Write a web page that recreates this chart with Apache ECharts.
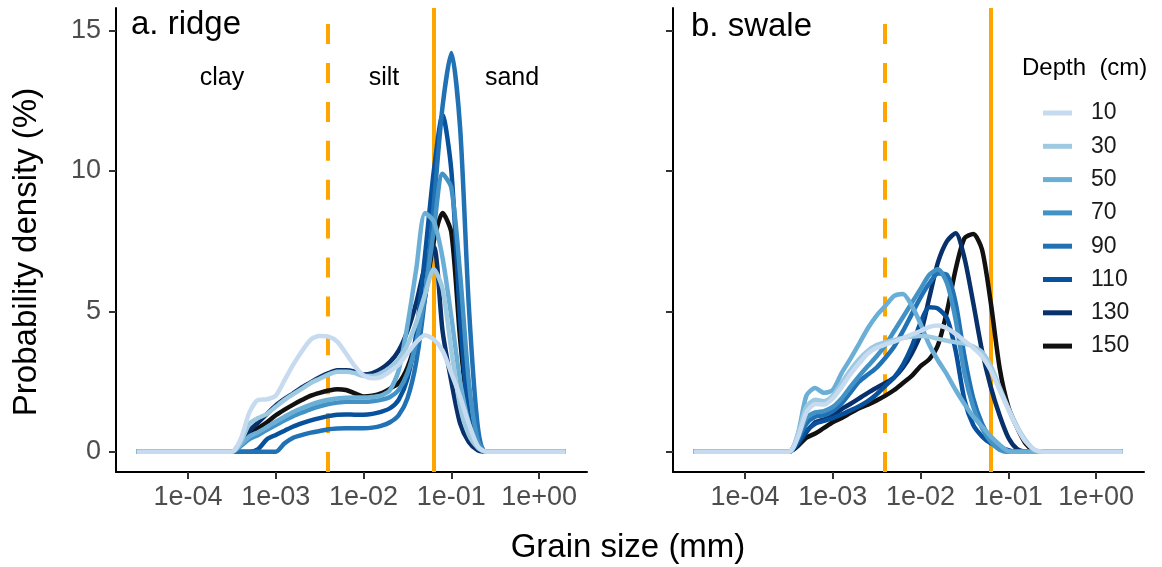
<!DOCTYPE html>
<html><head><meta charset="utf-8">
<script src="https://cdn.jsdelivr.net/npm/echarts@6/dist/echarts.min.js"></script>
<style>html,body{margin:0;padding:0;background:#fff}#c{width:1162px;height:567px}</style>
</head><body><div id="c"></div>
<script>
// Grain size (mm) sample points
const grainSize = [0.000026, 0.000316, 0.000398, 0.000501, 0.000631, 0.000794, 0.001, 0.00126, 0.00158, 0.002, 0.00251, 0.00316, 0.00398, 0.00501, 0.00631, 0.00794, 0.01, 0.0126, 0.0158, 0.02, 0.0251, 0.0316, 0.0398, 0.0501, 0.0631, 0.0794, 0.1, 0.126, 0.158, 0.2, 0.251, 2.0];
const depths = ['10', '30', '50', '70', '90', '110', '130', '150'];
const depthColors = ['#c6dbef', '#9ecae1', '#6baed6', '#4292c6', '#2171b5', '#08519c', '#08306b', '#111111'];

// a. ridge — probability density (%)
const ridge10  = [0, 0, 0.45, 1.4, 1.85, 1.87, 2.0, 2.55, 3.1, 3.6, 4.0, 4.12, 4.1, 3.92, 3.5, 3.05, 2.72, 2.62, 2.66, 2.86, 3.1, 3.5, 3.9, 4.15, 4.0, 3.6, 2.8, 1.95, 1.0, 0.2, 0, 0];
const ridge30  = [0, 0, 0.35, 1.0, 1.2, 1.35, 1.6, 1.85, 2.05, 2.25, 2.45, 2.6, 2.75, 2.85, 2.85, 2.8, 2.7, 2.7, 2.8, 3.0, 3.3, 3.8, 4.6, 5.6, 6.5, 5.8, 3.6, 1.6, 0.6, 0.15, 0, 0];
const ridge50  = [0, 0, 0.25, 0.55, 0.7, 0.88, 1.07, 1.25, 1.42, 1.56, 1.68, 1.78, 1.85, 1.9, 1.92, 1.93, 1.93, 1.95, 2.0, 2.2, 2.9, 4.5, 6.5, 8.5, 8.2, 6.9, 4.8, 2.5, 1.0, 0.15, 0, 0];
const ridge70  = [0, 0, 0.2, 0.45, 0.6, 0.78, 0.95, 1.12, 1.27, 1.4, 1.52, 1.62, 1.7, 1.75, 1.78, 1.78, 1.78, 1.8, 1.85, 1.95, 2.2, 2.8, 3.9, 5.6, 7.9, 9.9, 9.4, 6.3, 2.5, 0.4, 0, 0];
const ridge90  = [0, 0, 0, 0, 0, 0, 0, 0.3, 0.5, 0.6, 0.68, 0.74, 0.8, 0.83, 0.84, 0.84, 0.84, 0.86, 0.92, 1.05, 1.3, 1.9, 3.2, 5.5, 8.8, 12.3, 14.2, 11.5, 5.2, 0.9, 0, 0];
const ridge110 = [0, 0, 0, 0, 0.1, 0.45, 0.6, 0.75, 0.9, 1.02, 1.12, 1.2, 1.27, 1.32, 1.33, 1.32, 1.32, 1.35, 1.42, 1.55, 1.85, 2.6, 4.2, 7.0, 10.0, 12.0, 10.0, 4.7, 1.3, 0.2, 0, 0];
const ridge130 = [0, 0, 0.3, 0.75, 1.05, 1.35, 1.65, 1.88, 2.08, 2.3, 2.48, 2.65, 2.8, 2.9, 2.9, 2.85, 2.75, 2.8, 2.95, 3.2, 3.6, 4.3, 5.3, 6.6, 7.3, 4.3, 2.5, 1.0, 0.35, 0.05, 0, 0];
const ridge150 = [0, 0, 0.35, 0.7, 0.85, 1.05, 1.3, 1.5, 1.68, 1.85, 2.0, 2.1, 2.18, 2.23, 2.2, 2.08, 1.97, 2.0, 2.08, 2.25, 2.45, 3.0, 4.0, 5.5, 7.5, 8.5, 7.8, 4.0, 1.2, 0.15, 0, 0];

// b. swale — probability density (%)
const swale10  = [0, 0, 0.5, 1.4, 1.7, 1.68, 1.9, 2.3, 2.75, 3.15, 3.5, 3.7, 3.82, 3.92, 4.05, 4.18, 4.3, 4.45, 4.5, 4.4, 4.2, 3.95, 3.7, 3.4, 2.9, 2.2, 1.5, 0.85, 0.35, 0.07, 0, 0];
const swale30  = [0, 0, 0.6, 1.6, 1.85, 1.8, 2.0, 2.45, 2.9, 3.3, 3.6, 3.8, 3.9, 3.98, 4.05, 4.1, 4.12, 4.1, 4.02, 3.95, 3.9, 3.85, 3.75, 3.55, 3.05, 2.3, 1.55, 0.9, 0.4, 0.06, 0, 0];
const swale50  = [0, 0, 0.6, 2.0, 2.27, 2.1, 2.2, 2.8, 3.3, 3.85, 4.4, 4.85, 5.2, 5.55, 5.62, 5.2, 4.55, 3.8, 3.25, 2.75, 2.2, 1.7, 1.25, 0.9, 0.55, 0.25, 0.02, 0, 0, 0, 0, 0];
const swale70  = [0, 0, 0.5, 1.2, 1.4, 1.45, 1.6, 1.9, 2.3, 2.7, 3.05, 3.4, 3.8, 4.3, 4.8, 5.3, 5.8, 6.3, 6.5, 6.0, 4.7, 2.8, 1.6, 0.85, 0.35, 0.07, 0, 0, 0, 0, 0, 0];
const swale90  = [0, 0, 0.4, 1.0, 1.25, 1.3, 1.45, 1.72, 2.1, 2.5, 2.75, 3.0, 3.35, 3.75, 4.3, 4.9, 5.5, 6.0, 6.35, 6.3, 5.3, 3.4, 1.9, 1.0, 0.45, 0.12, 0, 0, 0, 0, 0, 0];
const swale110 = [0, 0, 0.3, 0.75, 1.0, 1.1, 1.2, 1.33, 1.47, 1.62, 1.8, 2.05, 2.35, 2.65, 3.1, 3.75, 4.6, 5.15, 5.1, 4.75, 3.6, 1.85, 0.95, 0.55, 0.3, 0.17, 0.06, 0, 0, 0, 0, 0];
const swale130 = [0, 0, 0.25, 0.7, 1.05, 1.15, 1.3, 1.52, 1.7, 1.9, 2.1, 2.28, 2.45, 2.65, 3.0, 3.5, 4.2, 5.5, 6.75, 7.5, 7.78, 6.9, 5.3, 3.6, 2.3, 1.3, 0.5, 0.1, 0, 0, 0, 0];
const swale150 = [0, 0, 0.2, 0.5, 0.65, 0.85, 1.05, 1.2, 1.38, 1.55, 1.68, 1.83, 2.0, 2.2, 2.45, 2.7, 3.05, 3.3, 3.8, 5.0, 6.5, 7.6, 7.75, 7.2, 5.3, 3.0, 1.6, 0.85, 0.28, 0.03, 0, 0];

// texture boundaries (mm): clay/silt and silt/sand
const boundaries = [0.0039, 0.0625];
const xTickExponents = [-4, -3, -2, -1, 0];
const yTicks = [0, 5, 10, 15];
const panelTitles = ['a. ridge', 'b. swale'];
const classLabels = ['clay', 'silt', 'sand'];

const ridgeSets = [ridge10, ridge30, ridge50, ridge70, ridge90, ridge110, ridge130, ridge150];
const swaleSets = [swale10, swale30, swale50, swale70, swale90, swale110, swale130, swale150];

const FONT = '"Liberation Sans", Arial, Helvetica, sans-serif';
const xMin = -4.82, xMax = 0.545, yMin = -0.72, yMax = 15.8;

function fmtExp(v) {
  const e = Math.round(v);
  return '1e' + (e < 0 ? '-' : '+') + String(Math.abs(e)).padStart(2, '0');
}

function makeX(gi) {
  return {
    type: 'value', gridIndex: gi, min: xMin, max: xMax,
    axisLine: { show: true, onZero: false, lineStyle: { color: '#000', width: 2 } },
    axisTick: { show: true, customValues: xTickExponents, length: 7, lineStyle: { color: '#333', width: 2 } },
    axisLabel: { show: true, customValues: xTickExponents, formatter: fmtExp, color: '#4d4d4d', fontSize: 27, fontFamily: FONT, margin: 12 },
    splitLine: { show: false }
  };
}
function makeY(gi) {
  return {
    type: 'value', gridIndex: gi, min: yMin, max: yMax,
    axisLine: { show: true, onZero: false, lineStyle: { color: '#000', width: 2 } },
    axisTick: { show: true, customValues: yTicks, length: 7, lineStyle: { color: '#333', width: 2 } },
    axisLabel: { show: gi === 0, customValues: yTicks, color: '#4d4d4d', fontSize: 27, fontFamily: FONT, margin: 15 },
    splitLine: { show: false }
  };
}

const series = [];
[ridgeSets, swaleSets].forEach((sets, gi) => {
  series.push({
    type: 'line', name: 'bounds' + gi, xAxisIndex: gi, yAxisIndex: gi, data: [], z: 1, silent: true,
    markLine: {
      z: 1, silent: true, symbol: ['none', 'none'], label: { show: false }, animation: false,
      data: [
        { xAxis: Math.log10(boundaries[0]), lineStyle: { type: [20, 18.9], color: '#FFA500', width: 4 } },
        { xAxis: Math.log10(boundaries[1]), lineStyle: { type: 'solid', color: '#FFA500', width: 4 } }
      ]
    }
  });
  for (let k = depths.length - 1; k >= 0; k--) {
    series.push({
      type: 'line', name: depths[k], xAxisIndex: gi, yAxisIndex: gi, z: 10,
      showSymbol: false, symbol: 'none', smooth: 0.25, animation: false,
      lineStyle: { color: depthColors[k], width: 4.5 },
      itemStyle: { color: depthColors[k] },
      data: grainSize.map((g, i) => [Math.log10(g), sets[k][i]])
    });
  }
});

const option = {
  backgroundColor: '#fff',
  animation: false,
  grid: [
    { left: 116, top: 8, width: 471, height: 464 },
    { left: 673, top: 8, width: 471, height: 464 }
  ],
  xAxis: [makeX(0), makeX(1)],
  yAxis: [makeY(0), makeY(1)],
  legend: {
    data: depths, orient: 'vertical', left: 1043, top: 101.5, padding: 0,
    itemWidth: 29, itemHeight: 5, itemGap: 10.3, icon: 'rect', selectedMode: false,
    textStyle: { fontSize: 23, lineHeight: 23, color: '#1a1a1a', fontFamily: FONT, padding: [0, 0, 0, 14] }
  },
  graphic: [
    { type: 'text', x: 131, y: 25, style: { text: panelTitles[0], fontSize: 33, fontFamily: FONT, fill: '#000', verticalAlign: 'middle', textVerticalAlign: 'middle' } },
    { type: 'text', x: 691, y: 27, style: { text: panelTitles[1], fontSize: 33, fontFamily: FONT, fill: '#000', verticalAlign: 'middle', textVerticalAlign: 'middle' } },
    { type: 'text', x: 222, y: 78, style: { text: classLabels[0], fontSize: 25, fontFamily: FONT, fill: '#000', align: 'center', textAlign: 'center', verticalAlign: 'middle', textVerticalAlign: 'middle' } },
    { type: 'text', x: 384, y: 78, style: { text: classLabels[1], fontSize: 25, fontFamily: FONT, fill: '#000', align: 'center', textAlign: 'center', verticalAlign: 'middle', textVerticalAlign: 'middle' } },
    { type: 'text', x: 512, y: 78, style: { text: classLabels[2], fontSize: 25, fontFamily: FONT, fill: '#000', align: 'center', textAlign: 'center', verticalAlign: 'middle', textVerticalAlign: 'middle' } },
    { type: 'text', x: 1022, y: 68, style: { text: 'Depth  (cm)', fontSize: 24, fontFamily: FONT, fill: '#000', verticalAlign: 'middle', textVerticalAlign: 'middle' } },
    { type: 'text', x: 628, y: 548, style: { text: 'Grain size (mm)', fontSize: 33, fontFamily: FONT, fill: '#000', align: 'center', textAlign: 'center', verticalAlign: 'middle', textVerticalAlign: 'middle' } },
    { type: 'text', x: 27, y: 252, rotation: Math.PI / 2, style: { text: 'Probability density (%)', fontSize: 33, fontFamily: FONT, fill: '#000', align: 'center', textAlign: 'center', verticalAlign: 'middle', textVerticalAlign: 'middle' } }
  ],
  series: series
};

const chart = echarts.init(document.getElementById('c'), null, { renderer: 'canvas' });
chart.setOption(option);
</script>
</body></html>
